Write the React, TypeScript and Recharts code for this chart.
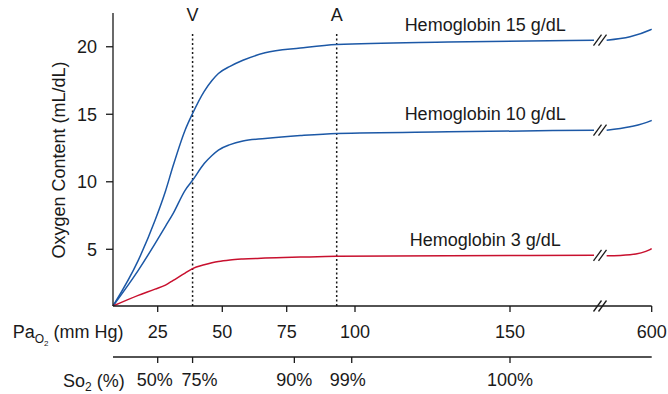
import React from 'react';
import { LineChart, Line, XAxis, YAxis, ReferenceLine, ReferenceDot, Label } from 'recharts';

// PaO2 (mm Hg) readings along the curves; 180 is where the axis is broken
const PAO2 = [8, 17.6, 24, 28, 31, 35.6, 38.5, 43, 46, 48.5, 53, 58, 66.6, 80, 93.3, 130, 178, 234, 424, 586, 600];
const HB15 = [0.8, 4.18, 7.15, 9.3, 11.2, 13.82, 15.06, 16.7, 17.5, 18.02, 18.55, 19.0, 19.55, 19.9, 20.17, 20.35, 20.49, 20.49, 20.74, 21.24, 21.3];
const HB10 = [0.8, 3.44, 5.42, 6.7, 7.66, 9.37, 10.11, 11.35, 11.95, 12.35, 12.75, 13.02, 13.2, 13.42, 13.58, 13.7, 13.82, 13.82, 14.07, 14.49, 14.55];
const HB3 = [0.8, 1.59, 2.05, 2.35, 2.7, 3.24, 3.57, 3.85, 4.0, 4.1, 4.21, 4.28, 4.35, 4.42, 4.48, 4.52, 4.55, 4.52, 4.6, 4.98, 5.05];
const BREAK_PAO2 = 180;

const PAO2_TICKS = [25, 50, 75, 100, 150, 600];
const SO2_AT_PAO2 = [25, 38.5, 77.8, 98.8, 150];
const SO2_LABELS = ['50%', '75%', '90%', '99%', '100%'];
const Y_TICKS = [5, 10, 15, 20];

const VENOUS = 38.5;
const ARTERIAL = 93.3;

// the printed axis is not linear: piecewise scale from PaO2 to axis units
const PAO2_KNOTS = [8, 25, 50, 75, 100, 150, 180, 600];
const AXIS_KNOTS = [0, 44.7, 109.3, 173.7, 242, 397, 487, 538.7];
const toAxis = (p: number) => {
  for (let i = 1; i < PAO2_KNOTS.length; i++) {
    if (p <= PAO2_KNOTS[i]) {
      const t = (p - PAO2_KNOTS[i - 1]) / (PAO2_KNOTS[i] - PAO2_KNOTS[i - 1]);
      return AXIS_KNOTS[i - 1] + t * (AXIS_KNOTS[i] - AXIS_KNOTS[i - 1]);
    }
  }
  return AXIS_KNOTS[AXIS_KNOTS.length - 1];
};

const BLUE = '#1c58a6';
const RED = '#c8102e';
const INK = '#1a1a1a';
const FONT = '"Liberation Sans", Arial, Helvetica, sans-serif';

// small horizontal shifts so the crowded So2 labels don't collide
const SO2_NUDGE = [-3, 7, 0, -4, 0];

const rows: any[] = PAO2.map((p, i) => ({ x: toAxis(p), hb15: HB15[i], hb10: HB10[i], hb3: HB3[i] }));
const breakIdx = PAO2.findIndex(p => p > BREAK_PAO2);
rows.splice(breakIdx, 0, { x: toAxis(BREAK_PAO2), hb15: null, hb10: null, hb3: null });

const xTicks = PAO2_TICKS.map(toAxis);
const so2Ticks = SO2_AT_PAO2.map(toAxis);

const BreakMark = (props: any) => {
  const { cx, cy } = props;
  return (
    <g stroke={INK} strokeWidth={1.3}>
      <line x1={cx - 6.5} y1={cy + 5.5} x2={cx + 1.5} y2={cy - 5.5} />
      <line x1={cx - 1.5} y1={cy + 5.5} x2={cx + 6.5} y2={cy - 5.5} />
    </g>
  );
};

const textShape = (label: string) => (props: any) => (
  <text x={props.cx} y={props.cy} textAnchor="middle" fontSize={18} fill={INK} fontFamily={FONT}>{label}</text>
);

const So2Tick = (props: any) => {
  const { x, y, payload } = props;
  const i = so2Ticks.indexOf(payload.value);
  return (
    <text x={x + (SO2_NUDGE[i] || 0)} y={y} dy="0.71em" textAnchor="middle" fontSize={18} fill={INK} fontFamily={FONT}>
      {SO2_LABELS[i]}
    </text>
  );
};

export default function App() {
  return (
    <div style={{ position: 'absolute', left: 0, top: 0, background: '#fff' }}>
      <LineChart width={668} height={394} data={rows} margin={{ top: 13, right: 16.3, bottom: 0, left: 53 }} style={{ fontFamily: FONT }}>
        <XAxis
          dataKey="x"
          type="number"
          domain={[0, 538.7]}
          ticks={xTicks}
          interval={0}
          tickFormatter={(v: number) => String(PAO2_TICKS[xTicks.indexOf(v)])}
          height={51}
          tickSize={6}
          tickMargin={13}
          stroke={INK}
          strokeWidth={1.3}
          tick={{ fontSize: 18, fill: INK }}
        >
          <Label content={() => (
            <text x={12.7} y={338} fontSize={18} fill={INK} fontFamily={FONT}>
              Pa<tspan fontSize={12} dy={5}>O</tspan><tspan fontSize={8} dy={3}>2</tspan><tspan fontSize={18} dy={-8}> (mm Hg)</tspan>
            </text>
          )} />
        </XAxis>
        <XAxis
          xAxisId="so2"
          dataKey="x"
          type="number"
          domain={[0, 538.7]}
          ticks={so2Ticks}
          interval={0}
          height={37}
          tickSize={6}
          tickMargin={10}
          stroke={INK}
          strokeWidth={1.3}
          tick={<So2Tick />}
        >
          <Label content={() => (
            <text x={63} y={386.5} fontSize={18} fill={INK} fontFamily={FONT}>
              So<tspan fontSize={12} dy={4}>2</tspan><tspan fontSize={18} dy={-4}> (%)</tspan>
            </text>
          )} />
        </XAxis>
        <YAxis
          type="number"
          domain={[0.8, 22.5]}
          ticks={Y_TICKS}
          allowDataOverflow
          width={60}
          tickSize={7}
          tickMargin={9}
          stroke={INK}
          strokeWidth={1.3}
          tick={{ fontSize: 18, fill: INK }}
        >
          <Label content={() => (
            <text x={65} y={160} transform="rotate(-90, 65, 160)" textAnchor="middle" fontSize={18} fill={INK} fontFamily={FONT}>
              Oxygen Content (mL/dL)
            </text>
          )} />
        </YAxis>

        <ReferenceLine segment={[{ x: toAxis(VENOUS), y: 0.8 }, { x: toAxis(VENOUS), y: 21.0 }]} stroke={INK} strokeWidth={1.5} strokeDasharray="2 2.5" />
        <ReferenceLine segment={[{ x: toAxis(ARTERIAL), y: 0.8 }, { x: toAxis(ARTERIAL), y: 21.0 }]} stroke={INK} strokeWidth={1.5} strokeDasharray="2 2.5" />
        <ReferenceDot x={toAxis(VENOUS)} y={21.9} ifOverflow="visible" shape={textShape('V')} />
        <ReferenceDot x={toAxis(ARTERIAL)} y={21.9} ifOverflow="visible" shape={textShape('A')} />

        <Line type="monotone" dataKey="hb15" stroke={BLUE} strokeWidth={1.5} dot={false} isAnimationActive={false} />
        <Line type="monotone" dataKey="hb10" stroke={BLUE} strokeWidth={1.5} dot={false} isAnimationActive={false} />
        <Line type="monotone" dataKey="hb3" stroke={RED} strokeWidth={1.5} dot={false} isAnimationActive={false} />

        <ReferenceDot x={toAxis(142)} y={21.16} ifOverflow="visible" shape={textShape('Hemoglobin 15 g/dL')} />
        <ReferenceDot x={toAxis(142)} y={14.56} ifOverflow="visible" shape={textShape('Hemoglobin 10 g/dL')} />
        <ReferenceDot x={toAxis(142)} y={5.22} ifOverflow="visible" shape={textShape('Hemoglobin 3 g/dL')} />

        <ReferenceDot x={toAxis(BREAK_PAO2)} y={20.49} ifOverflow="visible" shape={BreakMark} />
        <ReferenceDot x={toAxis(BREAK_PAO2)} y={13.82} ifOverflow="visible" shape={BreakMark} />
        <ReferenceDot x={toAxis(BREAK_PAO2)} y={4.55} ifOverflow="visible" shape={BreakMark} />
        <ReferenceDot x={toAxis(BREAK_PAO2)} y={0.8} ifOverflow="visible" shape={BreakMark} />
      </LineChart>
    </div>
  );
}
